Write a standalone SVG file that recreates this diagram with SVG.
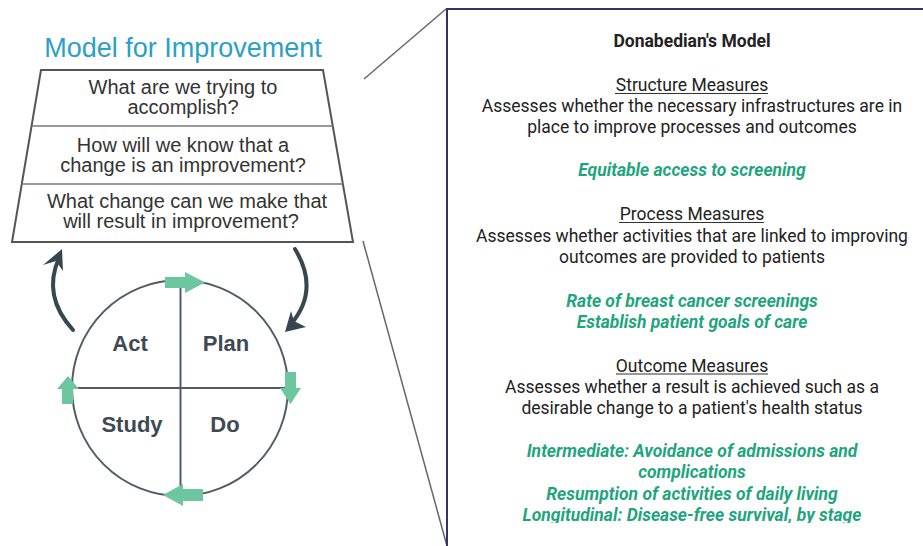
<svg xmlns="http://www.w3.org/2000/svg" width="923" height="546" viewBox="0 0 923 546">
<style>
.q{font-family:"Liberation Sans",Arial,sans-serif;font-size:20px;fill:#333;text-anchor:middle}
.pd{font-family:"Liberation Sans",Arial,sans-serif;font-size:22px;font-weight:bold;fill:#3d4a55;text-anchor:middle}
.b{font-family:Roboto,"Liberation Sans",sans-serif;font-size:17.5px;fill:#222;text-anchor:middle}
.t{font-weight:bold}
.g{font-family:Roboto,"Liberation Sans",sans-serif;font-size:17.5px;font-weight:bold;font-style:italic;fill:#1fa57e;text-anchor:middle}
.ul{stroke:#333;stroke-width:1.2}
.ga{fill:#6cc6a0}
.da{fill:none;stroke:#37474f;stroke-width:4;stroke-linecap:round}
.dh{fill:#37474f}
</style>
<defs>
<clipPath id="panelClip"><rect x="447" y="9" width="480" height="514"/></clipPath>
</defs>
<rect width="923" height="546" fill="#fff"/>

<g id="title">
<text x="183" y="57" font-family="Liberation Sans,Arial,sans-serif" font-size="27" fill="#2aa0c8" text-anchor="middle">Model for Improvement</text>
</g>

<g id="trapezoid">
<polygon points="41,70 323,70 353,242 12,242" fill="#fff" stroke="#555" stroke-width="2"/>
<line x1="31.6" y1="126" x2="332.8" y2="126" stroke="#777" stroke-width="1.5"/>
<line x1="21.8" y1="184" x2="342.9" y2="184" stroke="#777" stroke-width="1.5"/>
<text class="q" x="183" y="94">What are we trying to</text>
<text class="q" x="183" y="114">accomplish?</text>
<text class="q" x="183" y="152">How will we know that a</text>
<text class="q" x="183" y="172">change is an improvement?</text>
<text class="q" x="187" y="208">What change can we make that</text>
<text class="q" x="181" y="228">will result in improvement?</text>
</g>

<g id="connectors">
<line x1="364" y1="79" x2="446" y2="9" stroke="#666" stroke-width="1.5"/>
<line x1="363" y1="241" x2="447" y2="546" stroke="#666" stroke-width="1.5"/>
<path class="da" d="M73,330 Q42,296 59,258"/>
<polygon class="dh" points="62,249 43,265 56,261 63,271"/>
<path class="da" d="M295,249 Q320,290 291,324"/>
<polygon class="dh" points="285,332 291,311 294,321 306,327"/>
</g>

<g id="pdsa">
<circle cx="180" cy="388" r="108" fill="none" stroke="#4f5b66" stroke-width="2"/>
<line x1="180.5" y1="280" x2="180.5" y2="496" stroke="#4f5b66" stroke-width="2"/>
<line x1="72" y1="388" x2="288" y2="388" stroke="#4f5b66" stroke-width="2"/>
<polygon class="ga" points="165,277 185,277 185,272 205,282.5 185,293 185,288 165,288"/>
<polygon class="ga" points="285,372 296,372 296,388 301,388 290.5,404 280,388 285,388"/>
<polygon class="ga" points="203,489 183,489 183,484 163,495 183,506 183,501 203,501"/>
<polygon class="ga" points="62,404 62,389 57,389 68,376 79,389 73,389 73,404"/>
<text class="pd" x="130" y="351">Act</text>
<text class="pd" x="226" y="351">Plan</text>
<text class="pd" x="132" y="432">Study</text>
<text class="pd" x="225" y="432">Do</text>
</g>

<g id="donabedian">
<rect x="447" y="9" width="490" height="560" fill="#fff" stroke="#33336b" stroke-width="2"/>
<g clip-path="url(#panelClip)">
<text class="b t" x="692" y="47">Donabedian's Model</text>
<text class="b" x="692" y="91">Structure Measures</text>
<line class="ul" x1="615" y1="93.5" x2="768" y2="93.5"/>
<text class="b" x="692" y="112">Assesses whether the necessary infrastructures are in</text>
<text class="b" x="692" y="133">place to improve processes and outcomes</text>
<text class="g" x="692" y="176">Equitable access to screening</text>
<text class="b" x="692" y="220">Process Measures</text>
<line class="ul" x1="619" y1="222.5" x2="764" y2="222.5"/>
<text class="b" x="692" y="241.5">Assesses whether activities that are linked to improving</text>
<text class="b" x="692" y="262.5">outcomes are provided to patients</text>
<text class="g" x="692" y="306.5">Rate of breast cancer screenings</text>
<text class="g" x="692" y="327.5">Establish patient goals of care</text>
<text class="b" x="692" y="371.5">Outcome Measures</text>
<line class="ul" x1="616" y1="374" x2="768" y2="374"/>
<text class="b" x="692" y="393">Assesses whether a result is achieved such as a</text>
<text class="b" x="692" y="414">desirable change to a patient's health status</text>
<text class="g" x="692" y="457">Intermediate: Avoidance of admissions and</text>
<text class="g" x="692" y="478">complications</text>
<text class="g" x="692" y="500">Resumption of activities of daily living</text>
<text class="g" x="692" y="521">Longitudinal: Disease-free survival, by stage</text>
</g>
</g>
</svg>
